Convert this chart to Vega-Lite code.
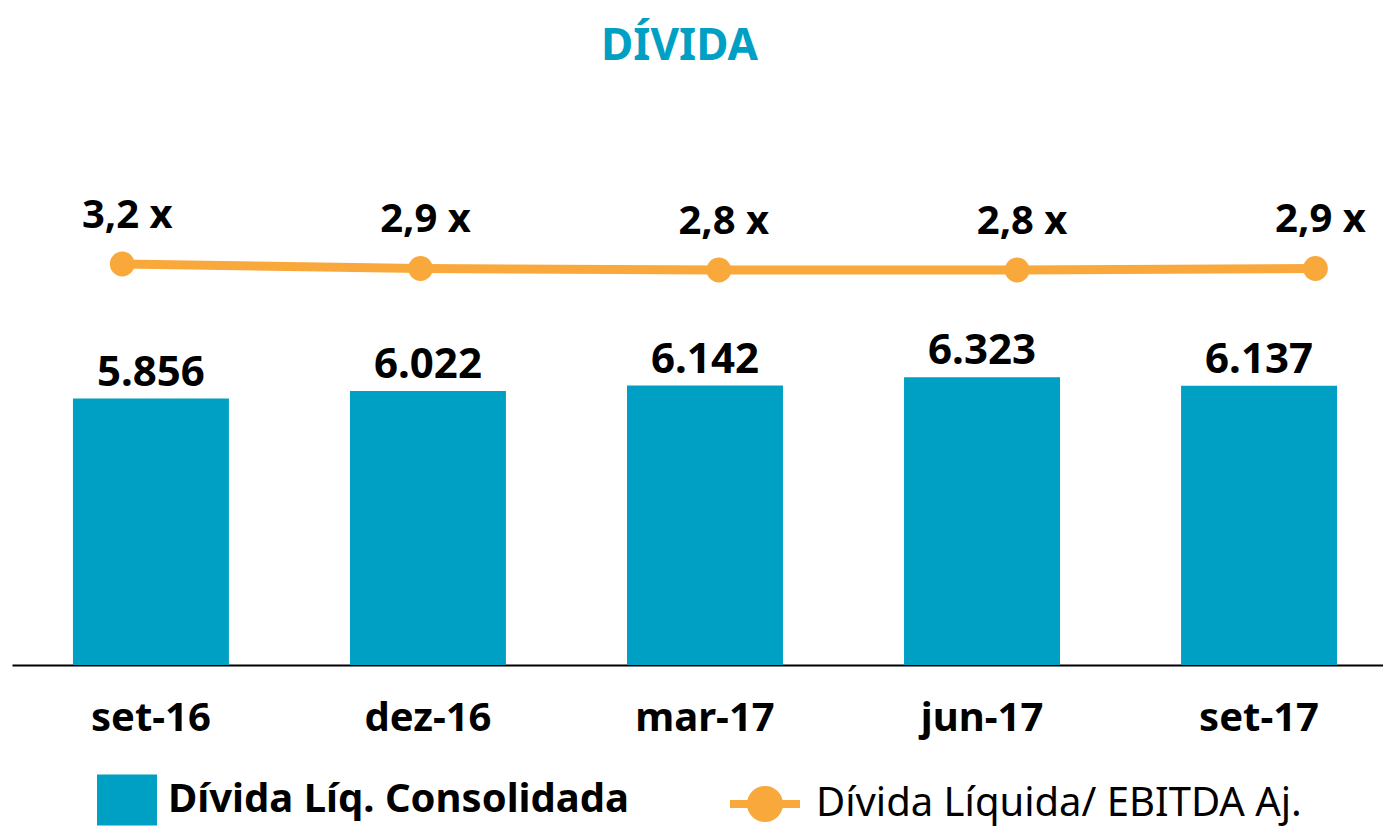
{
  "$schema": "https://vega.github.io/schema/vega-lite/v6.json",
  "width": 1371,
  "height": 565,
  "autosize": {"type": "none"},
  "padding": {"left": 12, "top": 100, "right": 0, "bottom": 166},
  "background": "white",
  "title": {
    "text": "DÍVIDA",
    "font": "Noto Sans",
    "fontSize": 44,
    "fontWeight": "bold",
    "color": "#00A0C4",
    "anchor": "middle",
    "baseline": "alphabetic",
    "offset": -4,
    "dx": -18
  },
  "data": {
    "values": [
      {"periodo": "set-16", "divida": 5856, "alavancagem": 3.2},
      {"periodo": "dez-16", "divida": 6022, "alavancagem": 2.9},
      {"periodo": "mar-17", "divida": 6142, "alavancagem": 2.8},
      {"periodo": "jun-17", "divida": 6323, "alavancagem": 2.8},
      {"periodo": "set-17", "divida": 6137, "alavancagem": 2.9}
    ]
  },
  "layer": [
    {
      "encoding": {
        "x": {
          "field": "periodo",
          "type": "nominal",
          "sort": null,
          "scale": {"paddingInner": 0.437, "paddingOuter": 0.193, "align": 0.57},
          "axis": {
            "title": null,
            "labelAngle": 0,
            "domainColor": "black",
            "domainWidth": 2,
            "ticks": false,
            "tickSize": 0,
            "grid": false,
            "labelFont": "Noto Sans",
            "labelFontSize": 40,
            "labelFontWeight": "bold",
            "labelColor": "black",
            "labelPadding": 65,
            "labelBaseline": "alphabetic"
          }
        },
        "y": {
          "field": "divida",
          "type": "quantitative",
          "scale": {"domain": [0, 12418], "nice": false, "zero": false},
          "axis": null
        }
      },
      "layer": [
        {
          "mark": {"type": "bar"},
          "encoding": {
            "fill": {
              "datum": "Dívida Líq. Consolidada",
              "scale": {"range": ["#00A0C4"]},
              "legend": {
                "orient": "none",
                "legendX": 85,
                "legendY": 670,
                "title": null,
                "padding": 0,
                "symbolType": "M-1,-0.85H1V0.85H-1Z",
                "symbolSize": 3600,
                "symbolStrokeWidth": 0,
                "symbolOpacity": 1,
                "labelFont": "Noto Sans",
                "labelFontSize": 40,
                "labelFontWeight": "bold",
                "labelColor": "black",
                "labelOffset": 11,
                "labelLimit": 0
              }
            }
          }
        },
        {
          "mark": {
            "type": "text",
            "font": "Noto Sans",
            "fontSize": 42,
            "fontWeight": "bold",
            "color": "black",
            "baseline": "alphabetic",
            "align": "center",
            "dy": -13
          },
          "encoding": {
            "text": {"field": "divida", "type": "quantitative", "format": ",.0f"}
          }
        }
      ]
    },
    {
      "encoding": {
        "x": {
          "field": "periodo",
          "type": "nominal",
          "sort": null,
          "scale": {"type": "point", "padding": 0.298, "align": 0.62},
          "axis": null
        },
        "y": {
          "field": "alavancagem",
          "type": "quantitative",
          "scale": {"domain": [-23.53, 14.13], "nice": false, "zero": false},
          "axis": null
        }
      },
      "layer": [
        {
          "mark": {"type": "line", "strokeWidth": 9},
          "encoding": {
            "stroke": {
              "datum": "Dívida Líquida/ EBITDA Aj.",
              "scale": {"range": ["#F9A93B"]},
              "legend": {
                "orient": "none",
                "legendX": 714,
                "legendY": 665,
                "title": null,
                "padding": 0,
                "symbolType": "M-1,0L1,0M-0.4,0A0.4,0.4 0 1,1 0.4,0A0.4,0.4 0 1,1 -0.4,0Z",
                "symbolSize": 4900,
                "symbolStrokeWidth": 8,
                "symbolFillColor": "#F9A93B",
                "symbolOpacity": 1,
                "labelFont": "Noto Sans",
                "labelFontSize": 40,
                "labelFontWeight": "normal",
                "labelColor": "black",
                "labelOffset": 12,
                "labelLimit": 0,
                "encode": {"symbols": {"update": {"fill": {"value": "#F9A93B"}, "stroke": {"value": "#F9A93B"}}}}
              }
            }
          }
        },
        {
          "mark": {"type": "point", "filled": true, "size": 615, "color": "#F9A93B", "opacity": 1}
        },
        {
          "mark": {
            "type": "text",
            "font": "Noto Sans",
            "fontSize": 40,
            "fontWeight": "bold",
            "color": "black",
            "baseline": "alphabetic",
            "align": "center",
            "dy": -36,
            "dx": 5,
            "text": {"expr": "format(datum.alavancagem, '.1f') + ' x'"}
          }
        }
      ]
    }
  ],
  "resolve": {"scale": {"x": "independent", "y": "independent", "fill": "independent", "stroke": "independent"}},
  "config": {
    "view": {"stroke": null},
    "locale": {
      "number": {"decimal": ",", "thousands": ".", "grouping": [3], "currency": ["R$", ""]}
    }
  }
}
